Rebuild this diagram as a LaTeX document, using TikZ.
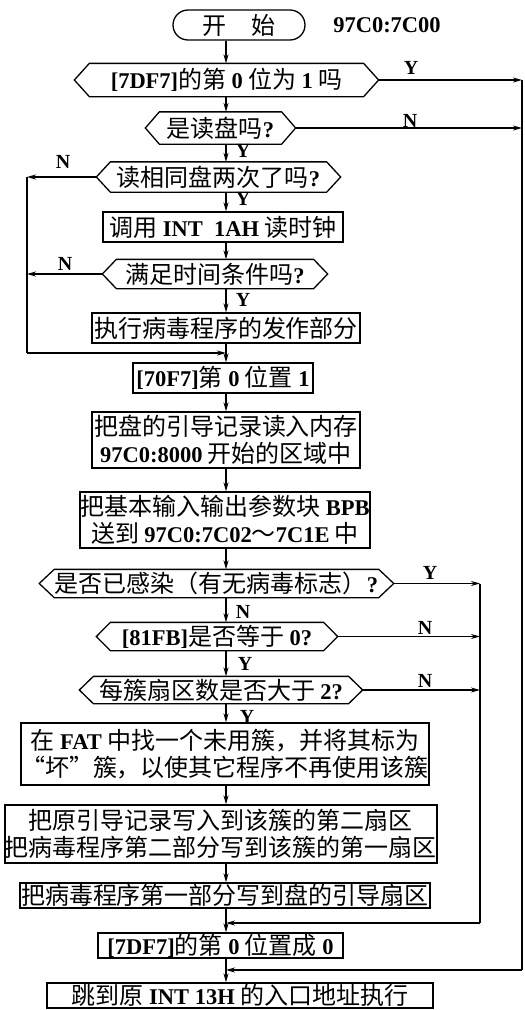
\documentclass[tikz,border=0pt]{standalone}
\usepackage{fontspec}
\setmainfont{Liberation Serif}
\newfontfamily\cjk{Noto Sans CJK SC}
\usetikzlibrary{arrows.meta,calc,shapes.misc}
\newcommand\lt[1]{{\rmfamily\bfseries\fontsize{22.5}{26}\selectfont #1}}
\newcommand\hexa[2]{\draw ($(#1.west)+(-#2,0)$) coordinate (#1-w) -- (#1.north west) -- (#1.north east) -- ($(#1.east)+(#2,0)$) coordinate (#1-e) -- (#1.south east) -- (#1.south west) -- cycle;}
\begin{document}
\begin{tikzpicture}[x=1pt,y=-1pt, line width=1.3pt,
 every node/.style={font=\cjk\fontsize{24}{27.5}\selectfont},
 box/.style={draw, inner sep=0pt, align=center},
 dec/.style={inner sep=0pt, align=center},
 lab/.style={font=\rmfamily\bfseries\fontsize{20}{20}\selectfont},
 flow/.style={-{Stealth[length=9pt,width=5pt]}},
]
\useasboundingbox (0,0) rectangle (525,1010);
\coordinate (ax) at (226,0);
% nodes
\node[draw, rounded rectangle, inner sep=0pt, minimum width=132pt, minimum height=30pt] (start) at (239,25) {开\hspace{26pt}始};
\node[lab, font=\rmfamily\bfseries\fontsize{22.5}{22}\selectfont] (addr) at (387,25) {97C0:7C00};
\node[dec, minimum width=273pt, minimum height=32pt] (d1) at (226.5,80) {\lt{[7DF7]}的第 \lt{0} 位为 \lt{1} 吗};
\node[dec, minimum width=121pt, minimum height=31pt] (d2) at (220.5,128) {是读盘吗\lt{?}};
\node[dec, minimum width=215pt, minimum height=29pt] (d3) at (218.5,177) {读相同盘两次了吗\lt{?}};
\node[box, minimum width=240pt, minimum height=30pt] (p1) at (223,227) {调用 \lt{INT\ \ 1AH} 读时钟};
\node[dec, minimum width=196pt, minimum height=28pt] (d4) at (215,274) {满足时间条件吗\lt{?}};
\node[box, minimum width=268pt, minimum height=30pt] (p2) at (226,328) {执行病毒程序的发作部分};
\node[box, minimum width=180pt, minimum height=30pt] (p3) at (223,378) {\lt{[70F7]}第 \lt{0} 位置 \lt{1}};
\node[box, minimum width=268pt, minimum height=56pt] (p4) at (226,440) {把盘的引导记录读入内存\\\lt{97C0:8000} 开始的区域中};
\node[box, minimum width=290pt, minimum height=56pt] (p5) at (225,520) {把基本输入输出参数块 \lt{BPB}\\送到 \lt{97C0:7C02}～\lt{7C1E} 中};
\node[dec, minimum width=319pt, minimum height=27pt] (d5) at (216.5,583.5) {是否已感染（有无病毒标志）\lt{?}};
\node[dec, minimum width=212pt, minimum height=27pt] (d6) at (217,636.5) {\lt{[81FB]}是否等于 \lt{0?}};
\node[dec, minimum width=254pt, minimum height=26pt] (d7) at (221,690) {每簇扇区数是否大于 \lt{2?}};
\node[box, minimum width=404pt, minimum height=62pt] (p6) at (225,754) {在 \lt{FAT} 中找一个未用簇，并将其标为\\“坏”簇，以使其它程序不再使用该簇};
\node[box, minimum width=432pt, minimum height=58pt] (p7) at (221,834) {把原引导记录写入到该簇的第二扇区\\把病毒程序第二部分写到该簇的第一扇区};
\node[box, minimum width=410pt, minimum height=25pt] (p8) at (225,895.5) {把病毒程序第一部分写到盘的引导扇区};
\node[box, minimum width=245pt, minimum height=25pt] (p9) at (220.5,945.5) {\lt{[7DF7]}的第 \lt{0} 位置成 \lt{0}};
\node[box, minimum width=386pt, minimum height=25pt] (p10) at (240,995.5) {跳到原 \lt{INT 13H} 的入口地址执行};
% hexagons
\hexa{d1}{15}
\hexa{d2}{14}
\hexa{d3}{14}
\hexa{d4}{14}
\hexa{d5}{15}
\hexa{d6}{14}
\hexa{d7}{14}
% labels
\node[lab] (y1) at (411,68) {Y};
\node[lab] (n2) at (410,121) {N};
\node[lab] (y2) at (243,151) {Y};
\node[lab] (n3) at (63,162) {N};
\node[lab] (y3) at (243,199) {Y};
\node[lab] (n4) at (65,264) {N};
\node[lab] (y4) at (243,300) {Y};
\node[lab] (y5) at (430,573) {Y};
\node[lab] (n5) at (243,612) {N};
\node[lab] (n6) at (425,628) {N};
\node[lab] (y6) at (245,664) {Y};
\node[lab] (n7) at (425,681) {N};
\node[lab] (y7) at (247,717) {Y};
% main vertical flow
\foreach \a/\b in {start/d1,d1/d2,d2/d3,d3/p1,p1/d4,d4/p2,p2/p3,p3/p4,p4/p5,p5/d5,d5/d6,d6/d7,d7/p6,p6/p7,p7/p8,p8/p9,p9/p10}
  \draw[flow] (\a.south -| ax) -- (\b.north -| ax);
% outer right trunk
\coordinate (r1) at (522,80);
\coordinate (r2) at (522,128);
\coordinate (r3) at (522,970);
\draw[flow] (d1-e) -- (r1);
\draw[flow] (d2-e) -- (r2);
\draw (r1) -- (r3);
\draw[flow] (r3) -- (r3 -| ax);
% left loop
\coordinate (l1) at (27,177);
\coordinate (l2) at (27,274);
\coordinate (l3) at (27,353);
\draw[flow] (d3-w) -- (l1);
\draw[flow] (d4-w) -- (l2);
\draw (l1) -- (l3);
\draw[flow] (l3) -- (l3 -| ax);
% inner right trunk
\coordinate (i1) at (480,583.5);
\coordinate (i2) at (480,636.5);
\coordinate (i3) at (480,690);
\coordinate (i4) at (480,923);
\draw[flow] (d5-e) -- (i1);
\draw[flow] (d6-e) -- (i2);
\draw[flow] (d7-e) -- (i3);
\draw (i1) -- (i4);
\draw[flow] (i4) -- (i4 -| ax);
\end{tikzpicture}
\end{document}
